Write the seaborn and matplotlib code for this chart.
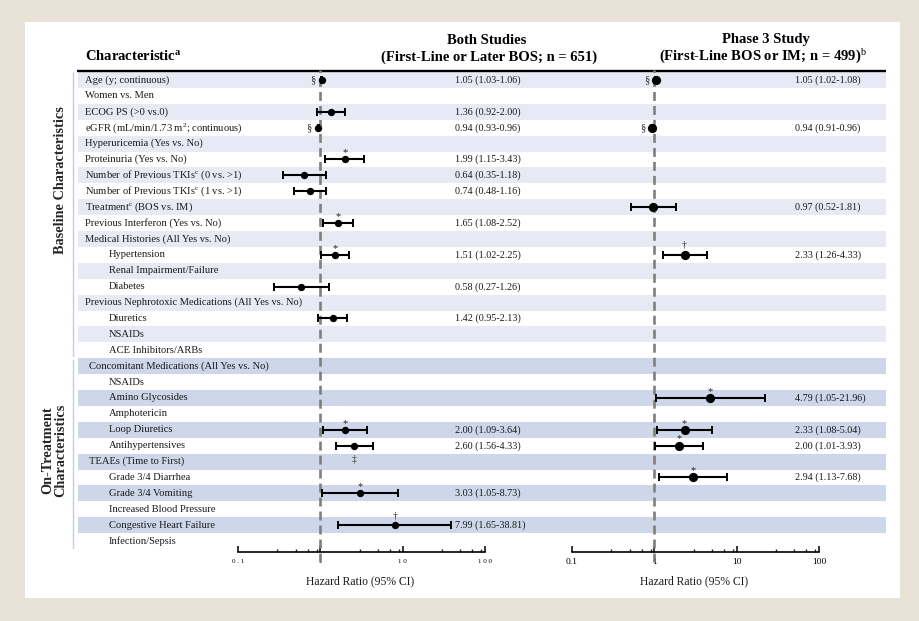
import matplotlib
matplotlib.use("Agg")
import matplotlib.pyplot as plt
import seaborn as sns
import numpy as np
import pandas as pd
from matplotlib.patches import Rectangle
from matplotlib.ticker import FixedLocator, LogLocator, NullFormatter

sns.set_theme(style="white")
plt.rcParams['font.family'] = ['Liberation Serif', 'DejaVu Serif']
plt.rcParams['mathtext.fontset'] = 'custom'
plt.rcParams['mathtext.rm'] = 'Liberation Serif'
plt.rcParams['mathtext.it'] = 'Liberation Serif:italic'
plt.rcParams['mathtext.bf'] = 'Liberation Serif:bold'

nan = np.nan

# ---------------- data ----------------
labels = [
    "Age (y; continuous)", "Women vs. Men", "ECOG PS (>0 vs.0)",
    "eGFR (mL/min/1.73 m$^{2}$; continuous)", "Hyperuricemia (Yes vs. No)",
    "Proteinuria (Yes vs. No)", "Number of Previous TKIs$^{\\mathrm{c}}$ (0 vs. >1)",
    "Number of Previous TKIs$^{\\mathrm{c}}$ (1 vs. >1)", "Treatment$^{\\mathrm{c}}$ (BOS vs. IM)",
    "Previous Interferon (Yes vs. No)", "Medical Histories (All Yes vs. No)",
    "Hypertension", "Renal Impairment/Failure", "Diabetes",
    "Previous Nephrotoxic Medications (All Yes vs. No)", "Diuretics", "NSAIDs",
    "ACE Inhibitors/ARBs", "Concomitant Medications (All Yes vs. No)", "NSAIDs",
    "Amino Glycosides", "Amphotericin", "Loop Diuretics", "Antihypertensives",
    "TEAEs (Time to First)", "Grade 3/4 Diarrhea", "Grade 3/4 Vomiting",
    "Increased Blood Pressure", "Congestive Heart Failure", "Infection/Sepsis",
]
levels = [0, 0, 0, 0, 0, 0, 0, 0, 0, 0, 0, 1, 1, 1, 0, 1, 1, 1,
          2, 1, 1, 1, 1, 1, 2, 1, 1, 1, 1, 1]
sections = ["Baseline Characteristics", "On-Treatment\nCharacteristics"]
section_rows = [18, 12]

both_hr = [1.05, nan, 1.36, 0.94, nan, 1.99, 0.64, 0.74, nan, 1.65, nan, 1.51, nan, 0.58, nan,
           1.42, nan, nan, nan, nan, nan, nan, 2.00, 2.60, nan, nan, 3.03, nan, 7.99, nan]
both_lo = [1.03, nan, 0.92, 0.93, nan, 1.15, 0.35, 0.48, nan, 1.08, nan, 1.02, nan, 0.27, nan,
           0.95, nan, nan, nan, nan, nan, nan, 1.09, 1.56, nan, nan, 1.05, nan, 1.65, nan]
both_hi = [1.06, nan, 2.00, 0.96, nan, 3.43, 1.18, 1.16, nan, 2.52, nan, 2.25, nan, 1.26, nan,
           2.13, nan, nan, nan, nan, nan, nan, 3.64, 4.33, nan, nan, 8.73, nan, 38.81, nan]
both_sym = ["§", "", "", "§", "", "*", "", "", "", "*", "", "*", "", "", "",
            "", "", "", "", "", "", "", "*", "‡", "", "", "*", "", "†", ""]

p3_hr = [1.05, nan, nan, 0.94, nan, nan, nan, nan, 0.97, nan, nan, 2.33, nan, nan, nan,
         nan, nan, nan, nan, nan, 4.79, nan, 2.33, 2.00, nan, 2.94, nan, nan, nan, nan]
p3_lo = [1.02, nan, nan, 0.91, nan, nan, nan, nan, 0.52, nan, nan, 1.26, nan, nan, nan,
         nan, nan, nan, nan, nan, 1.05, nan, 1.08, 1.01, nan, 1.13, nan, nan, nan, nan]
p3_hi = [1.08, nan, nan, 0.96, nan, nan, nan, nan, 1.81, nan, nan, 4.33, nan, nan, nan,
         nan, nan, nan, nan, nan, 21.96, nan, 5.04, 3.93, nan, 7.68, nan, nan, nan, nan]
p3_sym = ["§", "", "", "§", "", "", "", "", "", "", "", "†", "", "", "",
          "", "", "", "", "", "*", "", "*", "*", "", "*", "", "", "", ""]

tick_vals = [0.1, 1, 10, 100]
tick_labels_left = ["0 . 1", "1", "1 0", "1 0 0"]
tick_labels_right = ["0.1", "1", "10", "100"]
minor_subs = [3, 5, 7, 9]

# ---------------- layout ----------------
W, H = 919, 621
ROW0, DY = 80.0, 15.9
n = len(labels)


def ry(i):
    return ROW0 + i * DY


fig = plt.figure(figsize=(W / 100, H / 100), dpi=100)
fig.patch.set_facecolor('#e9e2d6')
bg = fig.add_axes([0, 0, 1, 1])
bg.set_xlim(0, W)
bg.set_ylim(H, 0)
bg.axis('off')

bg.add_patch(Rectangle((25, 22), 875, 576, facecolor='white', edgecolor='none'))

light, dark = '#e7eaf5', '#ced6ea'
for i in range(n):
    if i % 2 == 0:
        col = light if i < section_rows[0] else dark
        bg.add_patch(Rectangle((78, ry(i) - DY / 2), 808, DY, facecolor=col, edgecolor='none'))

bg.plot([77, 886], [70.5, 70.5], color='black', lw=1.7, solid_capstyle='butt')
bg.plot([73, 73], [72, 356], color='#c6cce0', lw=1.0)
bg.plot([73, 73], [360, 548], color='#c6cce0', lw=1.0)

# headers
hdr = dict(fontsize=10.5, fontweight='bold', color='black')
bg.text(85, 56, "Characteristic$^{\\mathbf{a}}$", ha='left', va='center', **hdr)
bg.text(487, 40, "Both Studies", ha='center', va='center', **hdr)
bg.text(489, 57, "(First-Line or Later BOS; n = 651)", ha='center', va='center', **hdr)
bg.text(766, 40, "Phase 3 Study", ha='center', va='center', **hdr)
bg.text(763, 57, "(First-Line BOS or IM; n = 499)$^{\\mathrm{b}}$", ha='center', va='center', **hdr)

# section labels
bg.text(61, 180, sections[0], rotation=90, ha='center', va='center',
        fontsize=10.3, fontweight='bold')
bg.text(54, 450, sections[1], rotation=90, ha='center', va='center',
        fontsize=10.3, fontweight='bold', multialignment='center', linespacing=1.05)

# row labels
xlev = {0: 85, 1: 109, 2: 89}
for i, (lab, lev) in enumerate(zip(labels, levels)):
    bg.text(xlev[lev], ry(i), lab, ha='left', va='center', fontsize=7.6, color='#1a1a1a')

# HR text columns
for i in range(n):
    if not np.isnan(both_hr[i]):
        bg.text(455, ry(i), f"{both_hr[i]:.2f} ({both_lo[i]:.2f}-{both_hi[i]:.2f})",
                ha='left', va='center', fontsize=7.3, color='#1a1a1a')
    if not np.isnan(p3_hr[i]):
        bg.text(795, ry(i), f"{p3_hr[i]:.2f} ({p3_lo[i]:.2f}-{p3_hi[i]:.2f})",
                ha='left', va='center', fontsize=7.3, color='#1a1a1a')


def px_axes(x0, x1, y0, y1):
    return fig.add_axes([x0 / W, 1 - y1 / H, (x1 - x0) / W, (y1 - y0) / H])


def forest(ax, hr, lo, hi, sym, size, cap, tlabels, tsize, tpad):
    df = pd.DataFrame({'row': np.arange(n), 'hr': hr, 'lo': lo, 'hi': hi, 'sym': sym})
    d = df.dropna(subset=['hr'])
    ax.set_xscale('log')
    ax.axvline(1, ymin=-0.021, ymax=1, color='#7f7f7f', lw=1.9, dashes=(3.4, 1.9),
               clip_on=False, zorder=1)
    ax.errorbar(d['hr'], d['row'], xerr=[d['hr'] - d['lo'], d['hi'] - d['hr']],
                fmt='none', ecolor='black', elinewidth=1.5, capsize=cap, capthick=1.4, zorder=3)
    sns.scatterplot(data=d, x='hr', y='row', ax=ax, color='black', s=size,
                    linewidth=0, zorder=4, legend=False)
    for _, r in d.iterrows():
        s = r['sym']
        if s == '§':
            ax.annotate(s, (r['hr'], r['row']), xytext=(-7, 0), textcoords='offset points',
                        ha='center', va='center', fontsize=7.5)
        elif s == '*':
            ax.annotate(s, (r['hr'], r['row']), xytext=(0, 3.0), textcoords='offset points',
                        ha='center', va='baseline', fontsize=7.5)
        elif s == '†':
            ax.annotate(s, (r['hr'], r['row']), xytext=(0, 5.0), textcoords='offset points',
                        ha='center', va='baseline', fontsize=7)
        elif s == '‡':
            ax.annotate(s, (r['hr'], r['row']), xytext=(0, -11.5), textcoords='offset points',
                        ha='center', va='baseline', fontsize=7)
    ax.set_xlim(0.1, 100)
    ax.set_ylim((552 - ROW0) / DY, (70 - ROW0) / DY)
    ax.patch.set_alpha(0)
    for sp in ['top', 'right', 'left']:
        ax.spines[sp].set_visible(False)
    ax.spines['bottom'].set_color('black')
    ax.spines['bottom'].set_linewidth(1.2)
    ax.set_yticks([])
    ax.set_ylabel('')
    ax.xaxis.set_major_locator(FixedLocator(tick_vals))
    ax.set_xticklabels(tlabels)
    ax.xaxis.set_minor_locator(LogLocator(base=10, subs=minor_subs))
    ax.xaxis.set_minor_formatter(NullFormatter())
    ax.tick_params(axis='x', which='major', bottom=True, direction='in', length=4.5,
                   width=1.1, labelsize=tsize, pad=tpad, colors='black')
    ax.tick_params(axis='x', which='minor', bottom=True, direction='in', length=2.3, width=1.0)
    ax.set_xlabel("Hazard Ratio (95% CI)", fontsize=8.4, color='#1a1a1a')
    ax.xaxis.label.set_va('center')
    ax.xaxis.set_label_coords(0.495, -(581 - 552) / 482)
    ax.grid(False)


axL = px_axes(238, 485, 70, 552)
axR = px_axes(572, 819, 70, 552)
forest(axL, both_hr, both_lo, both_hi, both_sym, 28, 2.7, tick_labels_left, 5.0, 5.3)
forest(axR, p3_hr, p3_lo, p3_hi, p3_sym, 44, 2.9, tick_labels_right, 6.8, 4.0)

fig.savefig("out.png", dpi=100, facecolor=fig.get_facecolor())
